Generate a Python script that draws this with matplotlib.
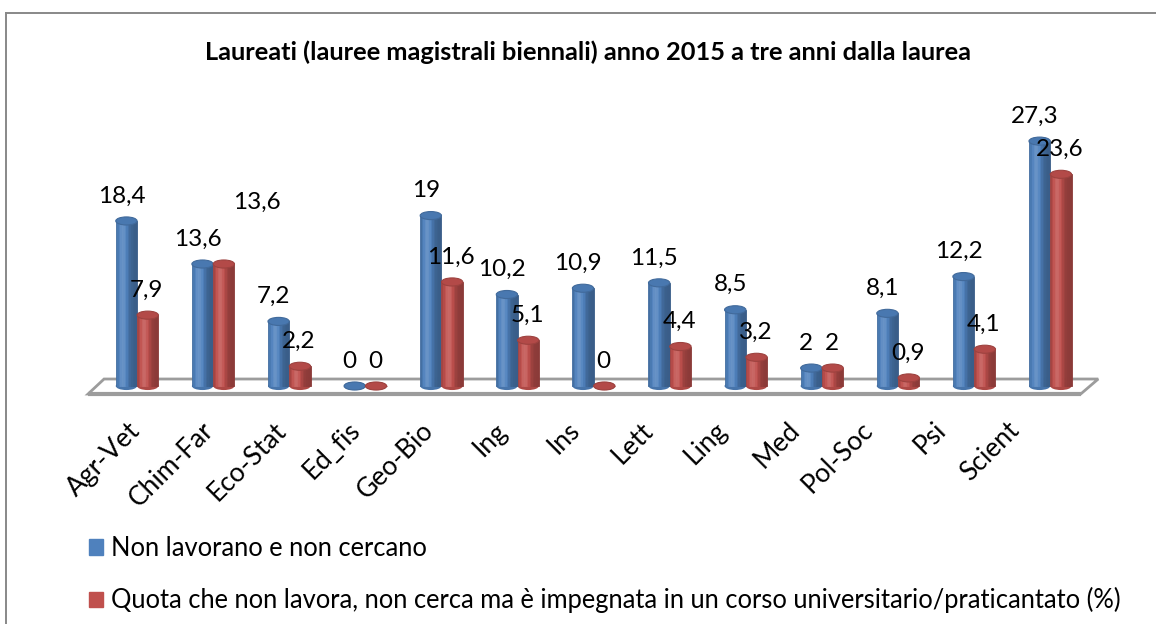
import matplotlib
matplotlib.use("Agg")
import matplotlib.pyplot as plt
from matplotlib.patches import Ellipse, Polygon, Patch
from matplotlib.lines import Line2D
import matplotlib.colors as mcolors
import numpy as np

plt.rcParams['font.family'] = ['Lato', 'DejaVu Sans']

# data
categories = ["Agr-Vet", "Chim-Far", "Eco-Stat", "Ed_fis", "Geo-Bio", "Ing", "Ins",
              "Lett", "Ling", "Med", "Pol-Soc", "Psi", "Scient"]
non_lavorano = [18.4, 13.6, 7.2, 0, 19, 10.2, 10.9, 11.5, 8.5, 2, 8.1, 12.2, 27.3]
quota_corso = [7.9, 13.6, 2.2, 0, 11.6, 5.1, 0, 4.4, 3.2, 2, 0.9, 4.1, 23.6]
series_names = ["Non lavorano e non cercano",
                "Quota che non lavora, non cerca ma è impegnata in un corso universitario/praticantato (%)"]
title = "Laureati (lauree magistrali biennali) anno 2015 a tre anni dalla laurea"

BLUE = "#4f81bd"
RED = "#c0504d"


def shade(color, f):
    c = np.array(mcolors.to_rgb(color))
    if f > 1:
        c = c + (1 - c) * (f - 1)
    else:
        c = c * f
    return tuple(np.clip(c, 0, 1))


def fmt(v):
    return ("%g" % v).replace(".", ",")


def cylinders(ax, xs, vals, color, width, cap_h):
    nstrip = 14
    edges = np.linspace(-width / 2, width / 2, nstrip + 1)
    for x, v in zip(xs, vals):
        # bottom ellipse
        ax.add_patch(Ellipse((x, 0), width, cap_h, color=shade(color, 0.9), zorder=2, lw=0))
        for k in range(nstrip):
            t = (k + 0.5) / nstrip
            f = 0.72 + 0.42 * np.exp(-((t - 0.33) / 0.28) ** 2)
            c = shade(color, f)
            ax.bar(x + (edges[k] + edges[k + 1]) / 2, v, width / nstrip,
                   color=c, edgecolor=c, linewidth=0.6, zorder=3)
        ax.add_patch(Ellipse((x, v), width, cap_h, facecolor=shade(color, 0.93),
                             edgecolor=shade(color, 0.82), lw=0.8, zorder=4))


fig = plt.figure(figsize=(11.56, 6.24), dpi=100)
fig.patch.set_facecolor("white")

# chart border (top and left visible)
fig.add_artist(Line2D([6 / 1156, 1.0], [1 - 13 / 624] * 2, color="#888888", lw=1.4))
fig.add_artist(Line2D([6 / 1156] * 2, [0, 1 - 13 / 624], color="#888888", lw=1.4))

ax = fig.add_axes([80 / 1156, 224 / 624, 1027.35 / 1156, 270 / 624])
ax.set_xlim(-0.75, 12.75)
ax.set_ylim(-1.56, 28.54)
ax.set_facecolor("none")
for s in ax.spines.values():
    s.set_visible(False)
ax.set_yticks([])

n = len(categories)
idx = np.arange(n)
bw = 0.28
cap_h = 0.9

# floor
floor = Polygon([(-0.644, -0.89), (12.40, -0.89), (12.63, 0.78), (-0.434, 0.78)],
                closed=True, facecolor="white", edgecolor="#9c9c9c", lw=2, zorder=1)
ax.add_patch(floor)
ax.plot([-0.644, 12.40], [-0.89, -0.89], color="#9c9c9c", lw=3, zorder=1,
        solid_capstyle="butt")

xb = idx - bw / 2
xr = idx + bw / 2
cylinders(ax, xb, non_lavorano, BLUE, bw, cap_h)
cylinders(ax, xr, quota_corso, RED, bw, cap_h)

# value labels
nudge = {("r", 1): (34, 37)}
for i in range(n):
    for key, xs, vals, dx in (("b", xb, non_lavorano, -5), ("r", xr, quota_corso, -1)):
        ox, oy = nudge.get((key, i), (0, 0))
        ax.annotate(fmt(vals[i]), xy=(xs[i], vals[i]), xytext=(dx + ox, 25 + oy),
                    textcoords="offset pixels", ha="center", va="center",
                    fontsize=17.5, color="black", zorder=6, annotation_clip=False)

# category labels
ax.set_xticks(-0.01 + 0.963 * idx)
ax.set_xticklabels(categories, rotation=45, ha="right", va="center",
                   rotation_mode="anchor", fontsize=19)
ax.tick_params(axis="x", length=0, pad=19)

fig.text(588 / 1156, 1 - 52 / 624, title, ha="center", va="center",
         fontsize=18.3, fontweight="bold")

handles = [Patch(facecolor=BLUE, edgecolor=BLUE), Patch(facecolor=RED, edgecolor=RED)]
fig.legend(handles, series_names, loc="upper left", bbox_to_anchor=(89 / 1156, 1 - 536 / 624),
           frameon=False, fontsize=18.4, handlelength=0.56, handleheight=0.56,
           handletextpad=0.32, labelspacing=1.03, borderpad=0, borderaxespad=0)

fig.savefig("out.png", dpi=100)
